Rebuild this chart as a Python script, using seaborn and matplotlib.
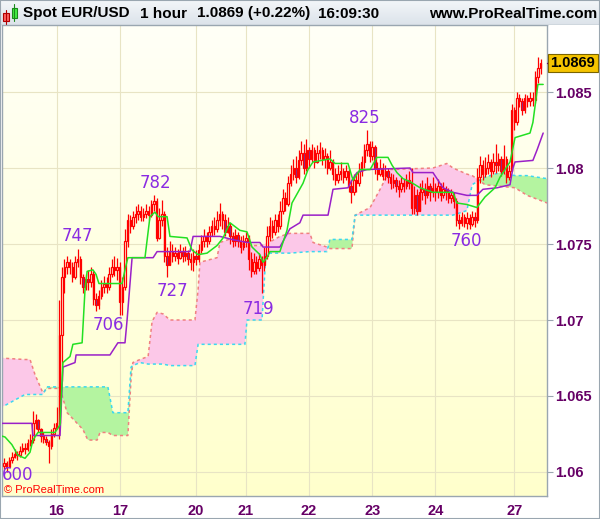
import numpy as np
import matplotlib
matplotlib.use("Agg")
import matplotlib.pyplot as plt
import seaborn as sns
from matplotlib.colors import LinearSegmentedColormap
from matplotlib.patches import Rectangle

# prix en pips (1.0xxx -> xxx), une bougie par heure
first_open = 604
closes = [606, 603, 608, 610, 612, 611, 614, 616, 615, 619,
          621, 632, 634, 628, 624, 622, 620, 617, 625, 629,
          632, 690, 728, 735, 738, 735, 728, 738, 740, 728,
          722, 727, 725, 730, 714, 710, 716, 722, 724, 722,
          730, 735, 733, 735, 712, 722, 752, 766, 762, 768,
          770, 772, 768, 770, 772, 769, 776, 778, 754, 766,
          770, 742, 736, 745, 742, 744, 741, 745, 742, 744,
          740, 738, 742, 740, 746, 752, 755, 752, 758, 762,
          760, 766, 770, 766, 758, 762, 755, 752, 756, 752,
          748, 752, 754, 740, 732, 738, 734, 740, 736, 742,
          755, 762, 758, 766, 762, 772, 780, 776, 790, 796,
          800, 794, 805, 810, 800, 812, 806, 812, 804, 810,
          812, 806, 808, 800, 804, 796, 792, 796, 798, 794,
          798, 788, 784, 792, 790, 798, 804, 812, 816, 808,
          814, 800, 796, 800, 795, 798, 794, 790, 792, 788,
          786, 790, 788, 792, 790, 774, 782, 772, 784, 786,
          782, 788, 784, 787, 784, 788, 782, 786, 784, 780,
          782, 778, 766, 764, 768, 764, 767, 763, 768, 766,
          794, 802, 796, 800, 804, 798, 804, 802, 806, 798,
          806, 794, 798, 838, 830, 846, 844, 838, 846, 844,
          846, 845, 860, 866, 869]
highs = [609, 607, 610, 613, 615, 614, 617, 619, 619, 622,
         625, 640, 638, 635, 629, 626, 624, 621, 628, 632,
         643, 713, 735, 740, 742, 740, 738, 742, 747, 742,
         730, 730, 733, 735, 732, 718, 720, 726, 729, 728,
         735, 740, 742, 741, 738, 728, 760, 770, 769, 772,
         775, 776, 775, 774, 776, 775, 779, 782, 780, 774,
         779, 772, 748, 752, 750, 748, 747, 750, 748, 749,
         746, 744, 747, 746, 750, 756, 760, 758, 762, 766,
         768, 772, 777, 772, 770, 768, 764, 758, 760, 758,
         755, 756, 758, 756, 745, 744, 742, 744, 742, 748,
         762, 768, 766, 770, 770, 778, 786, 784, 795, 802,
         806, 808, 812, 818, 816, 819, 814, 816, 814, 815,
         817, 814, 813, 810, 812, 806, 800, 802, 804, 800,
         802, 800, 792, 796, 797, 803, 808, 816, 825, 818,
         818, 815, 804, 806, 803, 802, 800, 797, 796, 794,
         792, 794, 793, 796, 798, 800, 788, 786, 790, 792,
         790, 794, 790, 794, 790, 793, 790, 791, 788, 787,
         786, 784, 780, 770, 771, 770, 771, 770, 772, 771,
         800, 808, 805, 807, 809, 806, 810, 816, 810, 808,
         815, 808, 802, 842, 840, 850, 849, 846, 849, 848,
         850, 850, 864, 873, 872]
lows = [602, 600, 603, 606, 609, 608, 610, 613, 612, 614,
        617, 619, 628, 626, 620, 619, 618, 606, 615, 623,
        628, 622, 660, 718, 730, 730, 725, 727, 735, 724,
        718, 720, 720, 722, 710, 706, 707, 714, 718, 718,
        720, 728, 729, 726, 703, 703, 720, 748, 757, 760,
        764, 766, 765, 765, 767, 766, 768, 772, 752, 753,
        762, 738, 728, 736, 738, 739, 737, 740, 738, 739,
        736, 733, 732, 736, 738, 744, 748, 748, 750, 755,
        756, 758, 762, 760, 755, 757, 750, 748, 749, 748,
        744, 746, 748, 733, 728, 730, 730, 732, 718, 732,
        740, 752, 754, 756, 758, 760, 770, 772, 775, 788,
        792, 790, 793, 802, 796, 798, 800, 804, 800, 803,
        806, 802, 800, 796, 799, 792, 789, 790, 792, 790,
        792, 784, 777, 782, 784, 788, 795, 800, 808, 804,
        805, 796, 792, 795, 792, 792, 790, 786, 787, 784,
        781, 784, 784, 786, 786, 770, 770, 769, 772, 779,
        776, 780, 778, 781, 778, 780, 778, 780, 779, 777,
        777, 774, 762, 760, 762, 761, 760, 760, 762, 761,
        764, 790, 792, 794, 796, 794, 796, 797, 798, 795,
        796, 790, 792, 798, 825, 828, 840, 835, 836, 840,
        841, 841, 843, 856, 862]

day_ticks = [20, 44, 73, 92, 116, 140, 164, 194]
day_labels = ['16', '17', '20', '21', '22', '23', '24', '27']
price_ticks = [1.06, 1.065, 1.07, 1.075, 1.08, 1.085]
price_labels = ['1.06', '1.065', '1.07', '1.075', '1.08', '1.085']

# Ichimoku: tenkan (vert), kijun (violet)
tenkan_x = [-1.5, 0.4, 3.0, 5.3, 8.0, 9.9, 11.0, 12.9, 19.4, 21.3, 22.4, 25.1, 26.2, 29.7,
            30.8, 31.6, 33.8, 35.0, 36.1, 44.9, 46.0, 47.1, 53.6, 55.5, 57.4, 58.6, 62.0,
            63.1, 69.6, 71.5, 73.8, 77.2, 81.0, 83.3, 85.9, 89.7, 92.4, 94.3, 97.3, 98.5,
            100.0, 101.1, 104.9, 107.6, 109.5, 113.7, 115.6, 117.5, 123.9, 125.9, 130.8,
            132.7, 135.4, 139.2, 141.8, 146.0, 147.5, 149.4, 151.7, 154.4, 158.2, 163.1,
            170.7, 172.2, 176.0, 179.8, 182.9, 186.7, 188.6, 192.4, 194.3, 200.0, 201.1,
            203.0, 205.0]
tenkan_y = [624, 623, 618, 611, 609, 613, 621, 626, 626, 631, 672, 676, 684, 685,
            720, 732, 733, 730, 724, 724, 733, 741, 741, 768, 771, 768, 768,
            755, 754, 746, 743, 744, 749, 754, 764, 759, 758, 748, 743, 738,
            741, 745, 745, 759, 777, 790, 799, 804, 806, 803, 803,
            792, 799, 799, 807, 807, 802, 797, 793, 791, 787, 784,
            784, 777, 776, 774, 781, 787, 794, 804, 820, 823, 830,
            855, 855]
kijun_x = [-1.5, 10.6, 11.0, 21.3, 22.4, 27.0, 27.4, 40.3, 43.3, 46.0, 46.8, 48.7, 56.7,
           58.2, 70.7, 71.9, 82.1, 86.7, 92.4, 97.3, 98.5, 104.9, 108.7, 112.5, 113.7,
           123.2, 125.1, 130.8, 132.3, 134.2, 138.0, 154.4, 155.5, 163.1, 166.9, 170.7,
           176.0, 179.8, 182.1, 187.5, 192.4, 193.5, 194.3, 201.1, 202.7, 205.0]
kijun_y = [632, 632, 624, 624, 669, 672, 677, 677, 685, 685, 700, 741, 741,
           745, 745, 755, 755, 753, 751, 751, 748, 748, 760, 764, 769,
           769, 786, 787, 792, 797, 799, 800, 797, 797, 787, 784,
           782, 782, 786, 787, 789, 800, 804, 805, 812, 823]

# nuage: span A (cyan) et span B (rouge)
cloud_x = [-1.5, 8.0, 9.9, 11.8, 14.8, 16.3, 21.3, 24.0, 30.0, 31.9,
           35.4, 36.5, 39.5, 41.4, 47.1, 48.3, 49.0, 51.7, 54.8, 56.3,
           58.2, 60.5, 63.1, 72.6, 73.8, 74.5, 81.0, 82.1, 87.1, 91.6,
           92.4, 98.1, 99.6, 104.9, 108.7, 116.3, 117.5, 122.8, 123.9, 132.3,
           133.5, 139.2, 143.0, 146.8, 163.1, 168.4, 170.7, 176.0, 178.0, 179.8,
           182.9, 188.6, 194.3, 198.9, 206.5]
span_a = [642, 651, 651, 651, 651, 656, 656, 656, 656, 656,
          656, 656, 656, 639, 639, 669, 670, 672, 671, 671,
          671, 671, 670, 670, 684, 684, 684, 684, 684, 684,
          700, 700, 744, 744, 744, 745, 745, 745, 753, 753,
          769, 769, 769, 769, 769, 769, 769, 772, 789, 791,
          794, 797, 795, 795, 793]
span_b = [675, 674, 674, 664, 652, 655, 655, 639, 628, 621,
          621, 626, 626, 624, 624, 661, 672, 674, 676, 699,
          705, 704, 700, 700, 720, 738, 741, 751, 754, 749,
          749, 749, 750, 755, 757, 757, 751, 748, 747, 747,
          769, 774, 786, 799, 800, 803, 800, 796, 795, 793,
          789, 788, 787, 782, 777]

label_text = ['600', '747', '706', '782', '727', '719', '825', '760']
label_x = [5.3, 27.8, 39.5, 57.4, 63.9, 96.6, 137.3, 175.7]
label_y = [598, 755, 697, 790, 719, 707, 833, 752]


def to_price(p):
    return 1 + np.asarray(p, dtype=float) / 10000


sns.set_style('white')
plt.rcParams['font.family'] = ['DejaVu Sans']

fig = plt.figure(figsize=(6, 5.19), dpi=100)
ax = fig.add_axes([2 / 600, 23 / 519, 545 / 600, 471 / 519])
x0, x1 = -0.76, 206.46
y0, y1 = float(to_price(584.2)), float(to_price(894.1))

# fond dégradé jaune pâle
bg = LinearSegmentedColormap.from_list('bg', ['#ffffcc', '#fffff7'])
ax.imshow(np.linspace(0, 1, 256).reshape(-1, 1), extent=[x0, x1, y0, y1],
          origin='lower', aspect='auto', cmap=bg, zorder=0)

# nuage
ca = to_price(span_a)
cb = to_price(span_b)
ax.fill_between(cloud_x, ca, cb, where=cb >= ca, interpolate=True, color='#fcc8e8', lw=0, zorder=1)
ax.fill_between(cloud_x, ca, cb, where=ca > cb, interpolate=True, color='#b4f4a0', lw=0, zorder=1)
ax.plot(cloud_x, cb, color='#f08080', lw=1.1, ls=(0, (2, 2)), zorder=1.5)
ax.plot(cloud_x, ca, color='#3cd8f0', lw=1.1, ls=(0, (2, 2)), zorder=1.5)

# bougies
opens = [first_open] + closes[:-1]
o = np.array(opens)
c = np.array(closes)
idx = np.arange(len(closes))
mid = (to_price((o + c) / 2) - y0) / (y1 - y0)
faces = [('#6a3aa8' if cc < oo else bg(m)) for oo, cc, m in zip(o, c, mid)]
ax.vlines(idx, to_price(lows), to_price(highs), color='#ff0000', lw=0.9, zorder=2)
ax.bar(idx, to_price(c) - to_price(o), bottom=to_price(o), width=0.55,
       color=faces, edgecolor='#ff0000', linewidth=0.9, zorder=3)

# lignes tenkan / kijun
sns.lineplot(x=kijun_x, y=to_price(kijun_y), ax=ax, color='#9a20c8', lw=1.1,
             estimator=None, sort=False, zorder=4)
sns.lineplot(x=tenkan_x, y=to_price(tenkan_y), ax=ax, color='#22e022', lw=1.1,
             estimator=None, sort=False, zorder=4)

# étiquettes des extrêmes
for t, lx, ly in zip(label_text, label_x, label_y):
    ax.text(lx, float(to_price(ly)), t, color='#8a2be2', fontsize=12,
            ha='center', va='center', zorder=6)

ax.text(0.004, 0.012, '\u00a9 ProRealTime.com', transform=ax.transAxes, color='#ff0000',
        fontsize=8, family='Liberation Sans', va='center', ha='left', zorder=6)

ax.set_xlim(x0, x1)
ax.set_ylim(y0, y1)
ax.yaxis.tick_right()
ax.set_yticks(price_ticks)
ax.set_yticklabels(price_labels)
ax.set_xticks(day_ticks)
ax.set_xticklabels(day_labels)
ax.tick_params(axis='both', colors='#9aa6b0', labelcolor='#660066', length=4,
               width=0.8, labelsize=10.5)
ax.tick_params(axis='y', pad=2)
ax.tick_params(axis='x', pad=2)
for lbl in ax.get_xticklabels() + ax.get_yticklabels():
    lbl.set_fontweight('bold')
    lbl.set_fontfamily('Liberation Sans')
ax.set_axisbelow(True)
ax.grid(True, color='#e8e4c4', lw=0.8)
ax.set_xlabel('')
ax.set_ylabel('')
for s in ax.spines.values():
    s.set_color('#9aa6b0')
    s.set_linewidth(1)

# étiquette du dernier prix
last = float(to_price(closes[-1]))
ax.plot([1, 1.008], [last, last], transform=ax.get_yaxis_transform(), color='#660066',
        lw=1, clip_on=False, zorder=9)
ax.text(1.0065, last, '1.0869', transform=ax.get_yaxis_transform(), ha='left', va='center',
        fontsize=10.5, fontweight='bold', family='Liberation Sans', color='black',
        bbox=dict(boxstyle='square,pad=0.16', fc='#f5c400', ec='#7a6400', lw=0.8),
        zorder=10, clip_on=False)

# bandeau du titre
hax = fig.add_axes([0, 1 - 25 / 519, 1, 25 / 519])
hbg = LinearSegmentedColormap.from_list('hbg', ['#f3f6f9', '#dce3ea'])
hax.imshow(np.linspace(0, 1, 64).reshape(-1, 1), extent=[0, 600, 25, 0],
           aspect='auto', cmap=hbg, zorder=0)
hax.set_xlim(0, 600)
hax.set_ylim(25, 0)
hax.axis('off')
hax.plot([0, 600], [24.5, 24.5], color='#9aa6b0', lw=1)
hax.plot([6, 6], [10, 24], color='#b00000', lw=0.8)
hax.add_patch(Rectangle((3, 13), 6, 8, fc='#ff6060', ec='#b00000', lw=0.8))
hax.plot([14, 14], [4, 21], color='#1a8a1a', lw=0.8)
hax.add_patch(Rectangle((11.5, 8), 5.5, 10, fc='#44ee44', ec='#1a8a1a', lw=0.8))
hfont = dict(fontsize=11, fontweight='bold', family='Liberation Sans', va='center', color='black')
hax.text(23, 13.5, 'Spot EUR/USD', **hfont)
hax.text(140, 13.5, '1 hour', **hfont)
hax.text(197, 13.5, '1.0869 (+0.22%)', **hfont)
hax.text(318, 13.5, '16:09:30', **hfont)
hax.text(597, 13.5, 'www.ProRealTime.com', ha='right', **hfont)

fig.patches.append(Rectangle((0, 0), 1, 1, transform=fig.transFigure, fill=False,
                             ec='#9aa6b0', lw=1.5))

fig.savefig('out.png', dpi=100)
